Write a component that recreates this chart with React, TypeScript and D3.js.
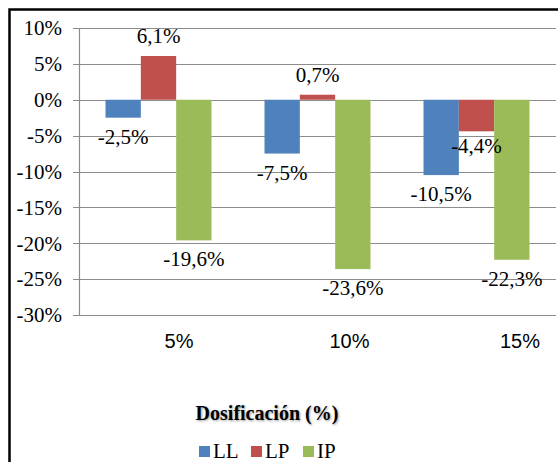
import React from "react";
import * as d3 from "d3";

const categories = ["5%", "10%", "15%"];
const seriesNames = ["LL", "LP", "IP"];
const LL = [-2.5, -7.5, -10.5];
const LP = [6.1, 0.7, -4.4];
const IP = [-19.6, -23.6, -22.3];
const colors = ["#4F81BD", "#C0504D", "#9BBB59"];
const yTicks = [10, 5, 0, -5, -10, -15, -20, -25, -30];

const width = 558;
const height = 462;
const plot = { left: 79, right: 556, top: 28, bottom: 315 };
const serif = { fontFamily: "Liberation Serif" };
const sans = { fontFamily: "Liberation Sans" };
const grid = "#8c8c8c";

const fmt = (v: number) => v.toFixed(1).replace(".", ",") + "%";

export default function App() {
  const y = d3.scaleLinear().domain([-30, 10]).range([plot.bottom, plot.top]);
  const x0 = d3
    .scaleBand()
    .domain(categories)
    .range([plot.left, plot.right])
    .paddingInner(1 / 3)
    .paddingOuter(1 / 6);
  const x1 = d3.scaleBand().domain(seriesNames).range([0, x0.bandwidth()]);
  // category labels sit a little right of the groups in the original
  const xl = d3.scalePoint().domain(categories).range([179, 520]);

  const series = [LL, LP, IP];
  const rows = categories.flatMap((c, i) =>
    seriesNames.map((s, j) => ({ cat: c, name: s, value: series[j][i], color: colors[j] }))
  );

  return (
    <svg width={width} height={height} style={{ position: "absolute", left: 0, top: 0, display: "block" }}>
      <defs>
        <filter id="blur" x="-10%" y="-30%" width="120%" height="160%">
          <feGaussianBlur stdDeviation={1.2} />
        </filter>
      </defs>
      <rect width={width} height={height} fill="white" />
      {/* outer frame */}
      <rect x={9.5} y={9.5} width={620} height={520} fill="none" stroke="#000" strokeWidth={2.5} />

      {/* gridlines */}
      {yTicks.map((t) => (
        <line
          key={t}
          x1={plot.left - 6}
          x2={plot.right}
          y1={Math.round(y(t)) + 0.5}
          y2={Math.round(y(t)) + 0.5}
          stroke={grid}
          strokeWidth={1.2}
        />
      ))}
      <line x1={plot.left + 0.5} x2={plot.left + 0.5} y1={plot.top} y2={plot.bottom + 0.5} stroke={grid} strokeWidth={1.2} />

      {/* y tick labels */}
      {yTicks.map((t) => (
        <text key={t} x={62} y={y(t)} dy="0.35em" textAnchor="end" fontSize={21} style={serif}>
          {`${t}%`}
        </text>
      ))}

      {/* bars */}
      {rows.map((d) => (
        <rect
          key={d.cat + d.name}
          x={x0(d.cat)! + x1(d.name)!}
          width={x1.bandwidth()}
          y={y(Math.max(0, d.value))}
          height={Math.abs(y(d.value) - y(0))}
          fill={d.color}
        />
      ))}

      {/* data labels */}
      {rows.map((d) => (
        <text
          key={"l" + d.cat + d.name}
          x={x0(d.cat)! + x1(d.name)! + x1.bandwidth() / 2}
          y={d.value >= 0 ? y(d.value) - 13 : y(d.value) + (d.name === "LP" ? 22 : 26)}
          textAnchor="middle"
          fontSize={21}
          style={serif}
        >
          {fmt(d.value)}
        </text>
      ))}

      {/* category labels */}
      {categories.map((c) => (
        <text key={c} x={xl(c)} y={348} textAnchor="middle" fontSize={20} style={sans}>
          {c}
        </text>
      ))}

      {/* axis title */}
      <text x={268} y={421} textAnchor="middle" fontSize={20} fontWeight="bold" fill="#999" filter="url(#blur)" style={serif}>
        Dosificación (%)
      </text>
      <text x={267} y={420} textAnchor="middle" fontSize={20} fontWeight="bold" style={serif}>
        Dosificación (%)
      </text>

      {/* legend */}
      {seriesNames.map((s, i) => (
        <g key={s} transform={`translate(${199 + i * 52},446)`}>
          <rect width={11} height={11} fill={colors[i]} />
          <text x={14} y={12} fontSize={21} style={serif}>
            {s}
          </text>
        </g>
      ))}
    </svg>
  );
}
